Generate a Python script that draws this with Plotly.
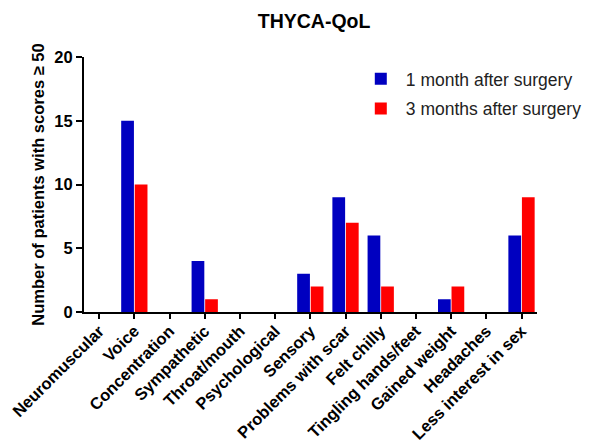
import plotly.graph_objects as go

categories = ["Neuromuscular", "Voice", "Concentration", "Sympathetic", "Throat/mouth",
              "Psychological", "Sensory", "Problems with scar", "Felt chilly",
              "Tingling hands/feet", "Gained weight", "Headaches", "Less interest in sex"]
one_month = [0, 15, 0, 4, 0, 0, 3, 9, 6, 0, 1, 0, 6]
three_months = [0, 10, 0, 1, 0, 0, 2, 7, 2, 0, 2, 0, 9]
y_ticks = [0, 5, 10, 15, 20]

fig = go.Figure()
fig.add_trace(go.Bar(x=categories, y=one_month, name="1 month after surgery",
                     legendgroup="a",
                     marker=dict(color="#0000C0", line=dict(width=0))))
fig.add_trace(go.Bar(x=categories, y=three_months, name="3 months after surgery",
                     legendgroup="b",
                     marker=dict(color="#FF0000", line=dict(width=0))))

font_family = "Liberation Sans, Arial, sans-serif"
fig.update_layout(
    width=592, height=443,
    margin=dict(l=76, r=63, t=49, b=139),
    paper_bgcolor="white", plot_bgcolor="white",
    barmode="group", bargap=0.23, bargroupgap=0.06,
    title=dict(text="<b>THYCA-QoL</b>", x=0.517, xanchor="center", y=0.97, yanchor="middle",
               font=dict(family=font_family, size=19.5, color="black")),
    font=dict(family=font_family, color="black"),
    legend=dict(x=0.60, y=0.985, xanchor="left", yanchor="top",
                font=dict(family=font_family, size=17.5, color="#222222"),
                bgcolor="rgba(0,0,0,0)", tracegroupgap=4, itemwidth=40),
    xaxis=dict(
        type="category", range=[-0.43, 12.44], automargin=False,
        showline=True, linecolor="black", linewidth=2,
        ticks="outside", ticklen=5, tickwidth=2, tickcolor="black",
        ticklabelstandoff=-4,
        tickangle=-45, tickfont=dict(family=font_family, size=16.5, color="black", weight="bold"),
        showgrid=False, zeroline=False,
    ),
    yaxis=dict(
        range=[0, 20], tickvals=y_ticks, automargin=False,
        showline=True, linecolor="black", linewidth=2,
        ticks="outside", ticklen=6, tickwidth=2, tickcolor="black",
        tickfont=dict(family=font_family, size=16.5, color="black", weight="bold"),
        showgrid=False, zeroline=False,
        title=dict(text="<b>Number of patients with scores \u2265 50</b>",
                   font=dict(family=font_family, size=16.5, color="black"), standoff=6),
    ),
)
fig.write_html("out.html")
